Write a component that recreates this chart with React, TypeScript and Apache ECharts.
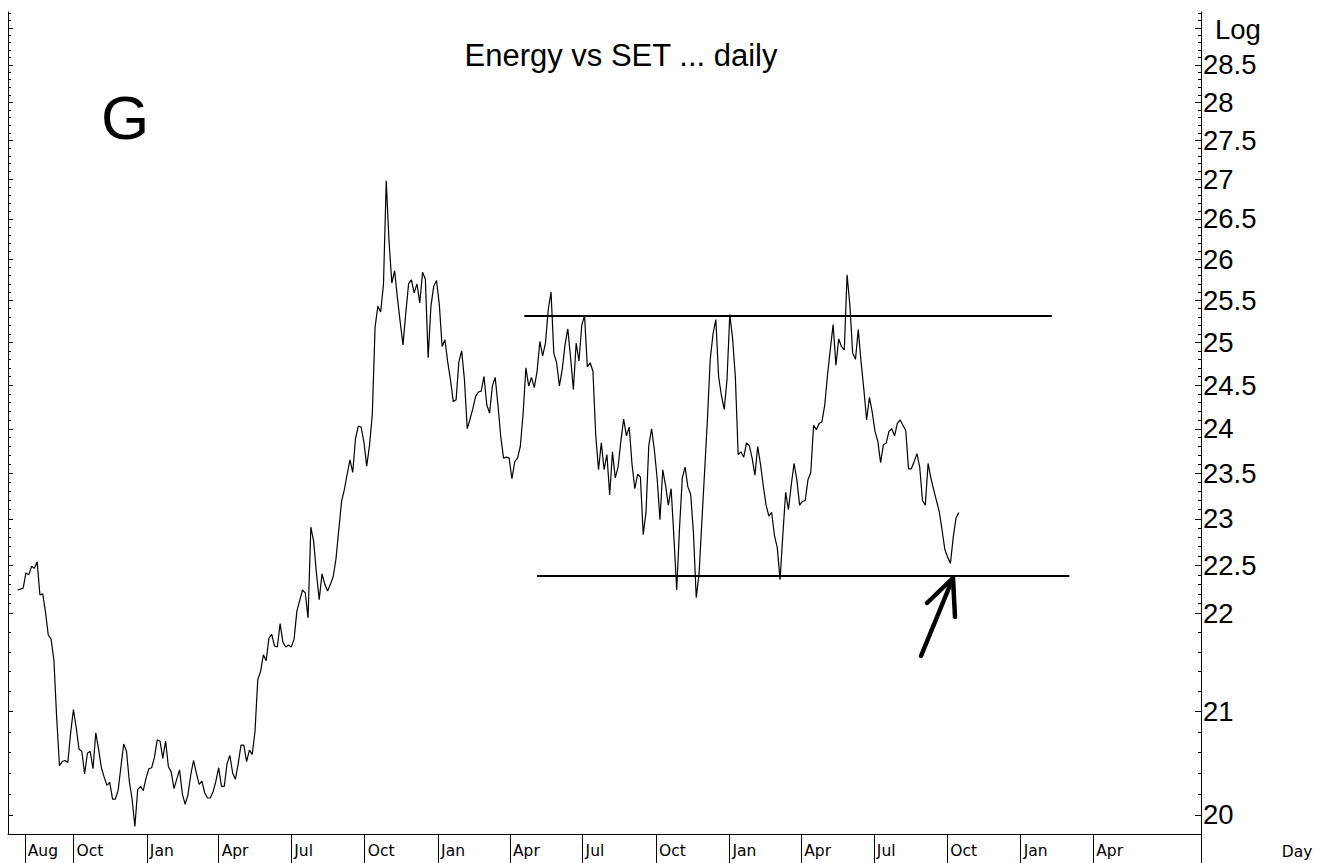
import React, { useEffect, useRef } from "react";
import * as echarts from "echarts";

const DAY = 86400000;

// series: one reading every 3.5 days from the first date
const seriesStart = "2004-07-23";
const stepDays = 3.5;
const values = [
  22.24, 22.25, 22.26, 22.42, 22.40, 22.49, 22.47, 22.54, 22.19, 22.20,
  22.01, 21.77, 21.73, 21.52, 20.94, 20.47, 20.51, 20.52, 20.50, 20.79,
  21.02, 20.84, 20.63, 20.61, 20.39, 20.59, 20.61, 20.44, 20.79, 20.63,
  20.45, 20.36, 20.28, 20.31, 20.15, 20.15, 20.23, 20.46, 20.68, 20.61,
  20.32, 20.15, 19.89, 20.24, 20.27, 20.23, 20.35, 20.44, 20.45, 20.55,
  20.72, 20.71, 20.54, 20.71, 20.46, 20.41, 20.25, 20.34, 20.43, 20.20,
  20.10, 20.19, 20.38, 20.52, 20.40, 20.29, 20.32, 20.21, 20.16, 20.16,
  20.22, 20.32, 20.45, 20.27, 20.27, 20.49, 20.57, 20.40, 20.34, 20.49,
  20.67, 20.67, 20.51, 20.62, 20.58, 20.80, 21.32, 21.40, 21.57, 21.51,
  21.74, 21.78, 21.66, 21.65, 21.89, 21.70, 21.65, 21.67, 21.65, 21.73,
  22.02, 22.13, 22.24, 22.21, 21.95, 22.91, 22.76, 22.42, 22.14, 22.41,
  22.30, 22.23, 22.30, 22.38, 22.57, 22.88, 23.19, 23.32, 23.49, 23.65,
  23.51, 23.89, 24.03, 24.02, 23.85, 23.58, 23.81, 24.16, 25.18, 25.43,
  25.36, 25.69, 26.98, 26.22, 25.71, 25.86, 25.53, 25.24, 24.97, 25.35,
  25.70, 25.75, 25.59, 25.70, 25.47, 25.84, 25.76, 24.82, 25.43, 25.67,
  25.74, 25.45, 24.95, 25.03, 24.77, 24.56, 24.31, 24.33, 24.77, 24.90,
  24.56, 24.00, 24.11, 24.23, 24.37, 24.42, 24.43, 24.60, 24.27, 24.18,
  24.49, 24.59, 24.27, 23.91, 23.67, 23.68, 23.67, 23.44, 23.63, 23.67,
  23.80, 24.17, 24.70, 24.49, 24.59, 24.47, 24.66, 25.01, 24.84, 24.99,
  25.39, 25.60, 24.87, 24.76, 24.49, 24.68, 24.97, 25.16, 24.82, 24.45,
  24.99, 24.78, 25.20, 25.32, 24.71, 24.76, 24.66, 23.93, 23.54, 23.84,
  23.54, 23.71, 23.26, 23.74, 23.45, 23.57, 23.86, 24.11, 23.92, 24.02,
  23.60, 23.33, 23.49, 23.46, 22.83, 23.07, 23.81, 24.00, 23.76, 23.44,
  22.99, 23.54, 23.37, 23.15, 23.33, 22.80, 22.24, 22.90, 23.45, 23.57,
  23.35, 23.27, 22.84, 22.16, 22.41, 22.97, 23.53, 24.11, 24.80, 25.10,
  25.27, 24.60, 24.38, 24.22, 24.56, 25.33, 25.05, 24.59, 23.71, 23.74,
  23.68, 23.84, 23.81, 23.67, 23.48, 23.80, 23.60, 23.36, 23.15, 23.03,
  23.07, 22.82, 22.69, 22.35, 22.83, 23.29, 23.10, 23.37, 23.61, 23.43,
  23.15, 23.19, 23.20, 23.43, 23.51, 24.04, 23.99, 24.06, 24.08, 24.27,
  24.62, 24.92, 25.21, 24.73, 25.04, 24.95, 24.91, 25.81, 25.44, 24.87,
  24.80, 25.15, 24.77, 24.45, 24.10, 24.36, 24.19, 23.97, 23.86, 23.62,
  23.82, 23.84, 23.97, 24.00, 23.92, 24.06, 24.10, 24.04, 23.98, 23.55,
  23.55, 23.63, 23.72, 23.57, 23.20, 23.15, 23.61, 23.45, 23.32, 23.20,
  23.08, 22.88, 22.67, 22.59, 22.52, 22.80, 23.01, 23.07,
];

// x axis
const axisStart = "2004-07-11";
const axisEnd = "2008-08-14";
const monthStarts = [
  "2004-08-01", "2004-10-01", "2005-01-01", "2005-04-01", "2005-07-01", "2005-10-01",
  "2006-01-01", "2006-04-01", "2006-07-01", "2006-10-01", "2007-01-01", "2007-04-01",
  "2007-07-01", "2007-10-01", "2008-01-01", "2008-04-01",
];
const monthLabels = [
  "Aug", "Oct", "Jan", "Apr", "Jul", "Oct", "Jan", "Apr", "Jul", "Oct", "Jan", "Apr",
  "Jul", "Oct", "Jan", "Apr",
];

// y axis (log)
const yMin = 19.82;
const yMax = 29.22;
const yLabelValues = [20, 21, 22, 22.5, 23, 23.5, 24, 24.5, 25, 25.5, 26, 26.5, 27, 27.5, 28, 28.5];
const yMajorTicks = [...yLabelValues, 29];

// hand-drawn levels
const resistance = { value: 25.32, from: "2006-04-19", to: "2008-02-09" };
const support = { value: 22.39, from: "2006-05-05", to: "2008-03-02" };

const titleText = "Energy vs SET ... daily";

export default function App() {
  const ref = useRef<HTMLDivElement>(null);
  useEffect(() => {
    document.body.style.margin = "0";
    const chart = echarts.init(ref.current!, null, { renderer: "svg" });
    const toTs = (s: string) => new Date(s + "T00:00:00Z").getTime();
    const t0 = toTs(seriesStart);
    const data = values.map((v, i) => [t0 + i * stepDays * DAY, v]);
    const monthTs = monthStarts.map(toTs);
    const labelOf = new Map<number, string>(monthTs.map((t, i) => [t, monthLabels[i]]));
    const findLabel = (v: number) => {
      for (const [t, s] of labelOf) if (Math.abs(t - v) < DAY / 2) return s;
      return "";
    };
    const minorTicks: number[] = [];
    for (let k = 198; k <= 292; k++) {
      const v = k / 10;
      if (v < 22 && k % 2 !== 0) continue;
      if (yMajorTicks.some((m) => Math.abs(m - v) < 1e-6)) continue;
      minorTicks.push(v);
    }
    const black = "#000";
    const fmtY = (v: number) => String(Math.round(v * 10) / 10);
    const yCommon: any = {
      type: "log",
      logBase: 10,
      min: yMin,
      max: yMax,
      splitLine: { show: false },
      minorTick: { show: false },
    };
    chart.setOption({
      animation: false,
      backgroundColor: "#fff",
      grid: { left: 8, right: 124, top: 12, bottom: 29, containLabel: false },
      xAxis: {
        type: "value",
        min: toTs(axisStart),
        max: toTs(axisEnd),
        axisLine: { show: true, onZero: false, lineStyle: { color: black, width: 1 } },
        axisTick: {
          show: true,
          customValues: [...monthTs, toTs(axisEnd)],
          length: 29,
          lineStyle: { color: black, width: 1 },
        },
        axisLabel: {
          show: true,
          customValues: monthTs,
          formatter: (v: number) => findLabel(v),
          align: "left",
          padding: [0, 0, 0, 3],
          margin: 9,
          color: black,
          fontSize: 15.5,
          fontFamily: "DejaVu Sans",
        },
        splitLine: { show: false },
      },
      yAxis: [
        {
          ...yCommon,
          position: "right",
          axisLine: { show: true, onZero: false, lineStyle: { color: black } },
          axisTick: { show: true, inside: true, length: 6, customValues: yMajorTicks, lineStyle: { color: black } },
          axisLabel: {
            show: true,
            customValues: yLabelValues,
            formatter: fmtY,
            margin: 2,
            color: black,
            fontSize: 27.5,
            fontFamily: "Liberation Sans",
          },
        },
        {
          ...yCommon,
          position: "right",
          axisLine: { show: false },
          axisTick: { show: true, inside: true, length: 3, customValues: minorTicks, lineStyle: { color: black } },
          axisLabel: { show: false },
        },
        {
          ...yCommon,
          position: "left",
          axisLine: { show: true, onZero: false, lineStyle: { color: black } },
          axisTick: { show: true, inside: true, length: 5, customValues: yMajorTicks, lineStyle: { color: black } },
          axisLabel: { show: false },
        },
        {
          ...yCommon,
          position: "left",
          axisLine: { show: false },
          axisTick: { show: true, inside: true, length: 3, customValues: minorTicks, lineStyle: { color: black } },
          axisLabel: { show: false },
        },
      ],
      series: [
        {
          type: "line",
          yAxisIndex: 0,
          data,
          showSymbol: false,
          symbol: "none",
          silent: true,
          emphasis: { disabled: true },
          lineStyle: { color: black, width: 1.2 },
          markLine: {
            silent: true,
            symbol: ["none", "none"],
            label: { show: false },
            emphasis: { disabled: true },
            lineStyle: { color: black, width: 2, type: "solid" },
            data: [
              [
                { coord: [toTs(resistance.from), resistance.value] },
                { coord: [toTs(resistance.to), resistance.value] },
              ],
              [
                { coord: [toTs(support.from), support.value] },
                { coord: [toTs(support.to), support.value] },
              ],
            ],
          },
        },
      ],
      graphic: [
        {
          type: "text",
          x: 621,
          y: 55,
          style: { text: titleText, fill: black, fontSize: 31, fontFamily: "Liberation Sans", align: "center", verticalAlign: "middle" },
        },
        {
          type: "text",
          x: 125,
          y: 117,
          style: { text: "G", fill: black, fontSize: 62, fontFamily: "Liberation Sans", align: "center", verticalAlign: "middle" },
        },
        {
          type: "text",
          x: 1215,
          y: 29,
          style: { text: "Log", fill: black, fontSize: 27.5, fontFamily: "Liberation Sans", align: "left", verticalAlign: "middle" },
        },
        {
          type: "text",
          x: 1297,
          y: 852,
          style: { text: "Day", fill: black, fontSize: 15.5, fontFamily: "DejaVu Sans", align: "center", verticalAlign: "middle" },
        },
        {
          type: "polyline",
          shape: { points: [[921, 656], [953, 578]] },
          style: { stroke: black, lineWidth: 4.5, lineCap: "round", fill: "none" },
        },
        {
          type: "polyline",
          shape: { points: [[927, 603], [953, 578], [955, 617]] },
          style: { stroke: black, lineWidth: 4.5, lineCap: "round", lineJoin: "round", fill: "none" },
        },
      ],
    });
    return () => chart.dispose();
  }, []);
  return <div ref={ref} style={{ position: "absolute", left: 0, top: 0, width: 1325, height: 863 }} />;
}
